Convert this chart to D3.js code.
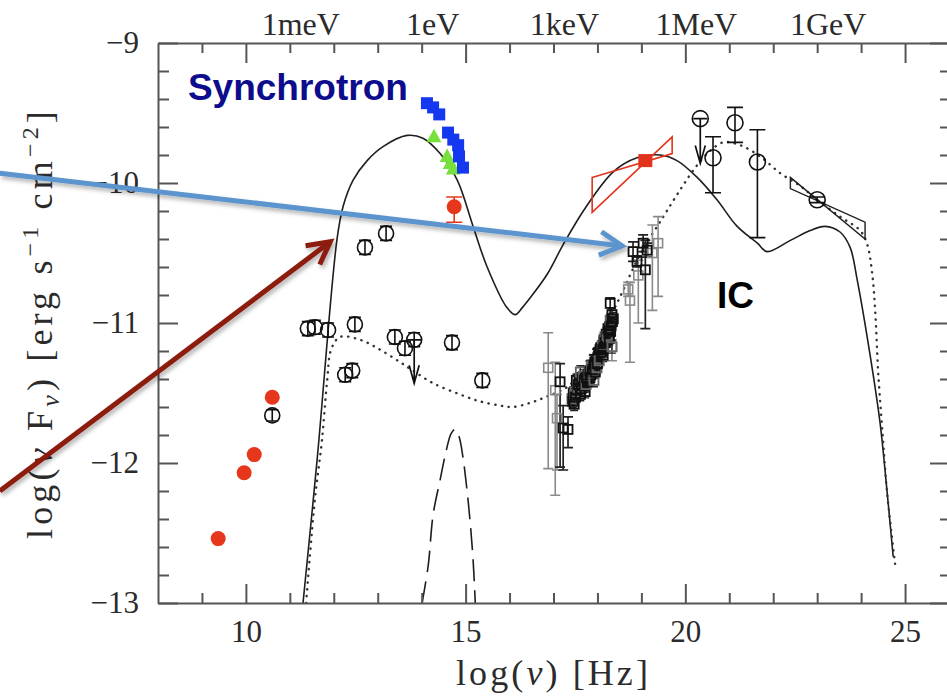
<!DOCTYPE html>
<html>
<head>
<meta charset="utf-8">
<script src="https://cdn.jsdelivr.net/npm/d3@7/dist/d3.min.js"></script>
<style>
  html, body { margin: 0; padding: 0; background: #fff; }
  svg { display: block; }
</style>
</head>
<body>
<svg id="sed" width="947" height="698"></svg>
<script>
// Broadband SED: log10(nu) [Hz] against log10(nu F_nu) [erg s^-1 cm^-2]

// ---- axes ----
const xDomain = [8, 26];
const yDomain = [-13, -9];
const xMajorTicks = [10, 15, 20, 25];
const xMinorTicks = [9, 11, 12, 13, 14, 16, 17, 18, 19, 21, 22, 23, 24];
const yMajorTicks = [-13, -12, -11, -10, -9];
const yMinorTicks = [-12.8, -12.6, -12.4, -12.2, -11.8, -11.6, -11.4, -11.2,
                     -10.8, -10.6, -10.4, -10.2, -9.8, -9.6, -9.4, -9.2];
const energyLabels = ["1meV", "1eV", "1keV", "1MeV", "1GeV"];
const energyPos = [11.25, 14.25, 17.25, 20.25, 23.25];

// ---- model curves ----
const sscModel = [
  [11.30,-13.00],[11.62,-11.98],[12.07,-10.41],[12.21,-10.17],[12.44,-9.98],
  [12.76,-9.84],[13.12,-9.74],[13.67,-9.66],[14.03,-9.68],[14.42,-9.79],
  [14.81,-9.98],[15.17,-10.31],[15.49,-10.60],[15.94,-10.89],[16.13,-10.94],
  [16.29,-10.89],[16.47,-10.82],[16.86,-10.65],[17.22,-10.44],[17.72,-10.18],
  [18.36,-9.92],[18.90,-9.82],[19.43,-9.80],[19.81,-9.84],[20.27,-9.96],
  [20.72,-10.12],[21.18,-10.31],[21.64,-10.43],[21.86,-10.49],[22.39,-10.41],
  [22.84,-10.34],[23.18,-10.31],[23.52,-10.35],[23.75,-10.46],[23.91,-10.69],
  [24.21,-11.24],[24.43,-11.71],[24.55,-12.07],[24.73,-12.67]
];
const altModel = [
  [11.37,-13.00],[11.57,-12.26],[11.73,-11.84],[11.85,-11.41],[11.94,-11.19],
  [12.14,-11.10],[12.60,-11.12],[13.05,-11.19],[13.51,-11.28],[13.80,-11.34],
  [14.26,-11.43],[14.87,-11.51],[15.33,-11.56],[15.79,-11.59],[16.08,-11.60],
  [16.47,-11.57],[16.81,-11.53],[17.38,-11.44],[17.95,-11.16],[18.52,-10.81],
  [18.97,-10.51],[19.50,-10.24],[19.88,-10.05],[20.18,-9.91],[20.50,-9.79],
  [20.86,-9.71],[21.25,-9.73],[21.70,-9.81],[22.16,-9.93],[22.61,-10.02],
  [23.00,-10.12],[23.52,-10.24],[23.98,-10.34],[24.14,-10.44],[24.25,-10.64],
  [24.32,-10.91],[24.39,-11.36],[24.50,-11.84],[24.59,-12.21],[24.78,-12.74]
];
const diskModel = [
  [14.01,-13.00],[14.15,-12.73],[14.26,-12.37],[14.42,-12.12],[14.56,-11.91],
  [14.67,-11.79],[14.76,-11.76],[14.85,-11.81],[14.94,-11.96],[15.03,-12.19],
  [15.10,-12.41],[15.17,-12.69],[15.22,-13.00]
];

// ---- observations ----
const radioPts = [[9.37,-12.54],[9.96,-12.07],[10.19,-11.94],[10.60,-11.53]];
const opticalRed = [[14.74,-10.17,-10.10,-10.28]];
const opticalBlue = [[14.12,-9.43],[14.26,-9.46],[14.40,-9.51],[14.60,-9.64],
                     [14.72,-9.69],[14.83,-9.73],[14.85,-9.81],[14.94,-9.89]];
const opticalGreen = [[14.28,-9.67],[14.58,-9.81],[14.65,-9.86],[14.72,-9.90]];
// archival points: [logNu, logNuFnu, errTop, errBottom]
const archival = [
  [10.60,-11.66,-11.62,-11.70],[11.41,-11.04,-10.99,-11.09],[11.57,-11.03,-10.98,-11.08],
  [11.87,-11.05,-11.00,-11.10],[12.48,-11.01,-10.96,-11.06],[12.71,-10.46,-10.41,-10.51],
  [13.19,-10.36,-10.31,-10.41],[13.39,-11.10,-11.05,-11.15],[13.62,-11.18,-11.13,-11.23],
  [13.83,-11.12,-11.07,-11.17],[14.69,-11.14,-11.09,-11.19],[12.26,-11.37,-11.32,-11.42],
  [12.42,-11.34,-11.29,-11.39],[15.38,-11.41,-11.36,-11.46]
];
// upper limits: [logNu, logNuFnu, arrow end]
const upperLimits = [[13.83,-11.12,-11.43],[20.34,-9.54,-9.86]];
const gammaPts = [
  [20.63,-9.82,-9.67,-10.07],[21.13,-9.57,-9.46,-9.71],
  [21.64,-9.85,-9.62,-10.39],[23.00,-10.12,-10.10,-10.14]
];
const xrayBand = [
  [17.42,-11.54],[17.44,-11.56],[17.45,-11.50],[17.47,-11.58],[17.49,-11.49],[17.50,-11.53],
  [17.52,-11.41],[17.54,-11.48],[17.56,-11.46],[17.57,-11.44],[17.58,-11.40],[17.61,-11.51],
  [17.61,-11.35],[17.63,-11.47],[17.65,-11.44],[17.66,-11.40],[17.68,-11.38],[17.70,-11.41],
  [17.71,-11.45],[17.72,-11.49],[17.74,-11.44],[17.75,-11.39],[17.77,-11.42],[17.79,-11.37],
  [17.81,-11.36],[17.83,-11.34],[17.83,-11.39],[17.85,-11.37],[17.86,-11.31],[17.88,-11.35],
  [17.90,-11.33],[17.92,-11.30],[17.92,-11.41],[17.94,-11.28],[17.95,-11.35],[17.97,-11.26],
  [17.99,-11.32],[18.00,-11.29],[18.02,-11.24],[18.03,-11.21],[18.04,-11.27],[18.06,-11.19],
  [18.08,-11.18],[18.09,-11.21],[18.11,-11.16],[18.12,-11.19],[18.13,-11.23],[18.15,-11.12],
  [18.17,-11.10],[18.18,-11.14],[18.20,-11.08],[18.21,-11.12],[18.22,-11.09],[18.24,-11.04],
  [18.26,-11.05],[18.27,-11.11],[18.29,-10.98],[18.30,-11.06],[18.31,-11.02],[18.33,-10.94],
  [18.33,-11.17],[18.34,-10.99],[18.36,-10.97]
];
// wide-band X-ray points: [logNu, logNuFnu, errTop, errBottom]
const xrayBlack = [
  [17.15,-11.42,-11.29,-12.03],[17.22,-11.75,-11.59,-12.05],[17.33,-11.76,-11.67,-11.89],
  [18.29,-10.86,-10.82,-11.05],[19.09,-10.62,-10.41,-11.04],[18.81,-10.49,-10.42,-10.56],
  [19.04,-10.43,-10.37,-10.49],[19.13,-10.48,-10.43,-10.53],[18.90,-10.56,-10.52,-10.60]
];
const xrayGrey = [
  [16.88,-11.32,-11.07,-12.04],[17.04,-11.48,-11.28,-12.23],[17.08,-11.68,-11.51,-12.05],
  [18.74,-10.84,-10.71,-11.28],[18.93,-10.66,-10.55,-11.00],[19.25,-10.50,-10.30,-10.91],
  [19.38,-10.43,-10.24,-10.81],[18.70,-10.76,-10.71,-10.81],[18.33,-11.17,-11.12,-11.27]
];
// spectral bowties (polygon corners)
const xrayBowtie = [[17.88,-9.96],[19.70,-9.79],[19.70,-9.67],[17.88,-10.21]];
const xrayPivot = [[19.09,-9.84]];
const gammaBowtie = [[22.39,-9.96],[24.09,-10.40],[24.09,-10.28],[22.39,-10.04]];

// ---- annotations ----
const labels = [
  {text: "Synchrotron", at: [8.68, -9.41], color: "#0c0c8c"},
  {text: "IC", at: [20.72, -10.89], color: "#000000"}
];
const arrows = [
  {from: [4.40, -9.93], to: [18.56, -10.45], color: "#5b94cd"},
  {from: [4.40, -12.20], to: [11.92, -10.42], color: "#8c1b0f"}
];

// ---- drawing ----
const svg = d3.select("#sed");
const x = d3.scaleLinear().domain(xDomain).range([158, 949]);
const y = d3.scaleLinear().domain(yDomain).range([603, 43]);
const serif = "'Liberation Serif', 'DejaVu Serif', serif";
const sans = "'Liberation Sans', Arial, sans-serif";
const axisColor = "#555";
const textColor = "#2b2b2b";

svg.append("rect").attr("width", 947).attr("height", 698).attr("fill", "#fff");

const defs = svg.append("defs");
defs.append("clipPath").attr("id", "plotClip")
  .append("rect").attr("x", x(8)).attr("y", y(-9))
  .attr("width", x(26) - x(8)).attr("height", y(-13) - y(-9));
const shadow = defs.append("filter").attr("id", "shadow")
  .attr("filterUnits", "userSpaceOnUse")
  .attr("x", 0).attr("y", 0).attr("width", 947).attr("height", 698);
shadow.append("feDropShadow").attr("dx", 2).attr("dy", 3)
  .attr("stdDeviation", 2).attr("flood-color", "#000").attr("flood-opacity", 0.3);

const plot = svg.append("g").attr("clip-path", "url(#plotClip)");

const line = d3.line().x(d => x(d[0])).y(d => y(d[1])).curve(d3.curveCatmullRom.alpha(0.5));

plot.append("path").datum(sscModel).attr("d", line)
  .attr("fill", "none").attr("stroke", "#1e1e1e").attr("stroke-width", 1.6);
plot.append("path").datum(altModel).attr("d", line)
  .attr("fill", "none").attr("stroke", "#333").attr("stroke-width", 2.4)
  .attr("stroke-dasharray", "0.3 6.5").attr("stroke-linecap", "round");
plot.append("path").datum(diskModel).attr("d", line)
  .attr("fill", "none").attr("stroke", "#1e1e1e").attr("stroke-width", 1.6)
  .attr("stroke-dasharray", "22 9");

// bowties
const poly = d3.line().x(d => x(d[0])).y(d => y(d[1])).curve(d3.curveLinearClosed);
plot.append("path").datum(xrayBowtie).attr("d", poly)
  .attr("fill", "none").attr("stroke", "#e2341d").attr("stroke-width", 1.6);
plot.append("path").datum(gammaBowtie).attr("d", poly)
  .attr("fill", "none").attr("stroke", "#1e1e1e").attr("stroke-width", 1.4);
plot.selectAll(".pivot").data(xrayPivot).join("rect")
  .attr("x", d => x(d[0]) - 7).attr("y", d => y(d[1]) - 6.5)
  .attr("width", 14).attr("height", 13).attr("fill", "#e2341d");

// error bars helper
function errorBars(g, data, cap, color, width) {
  g.selectAll(null).data(data).join("path")
    .attr("d", d => {
      const cx = x(d[0]), t = y(d[2]), b = y(d[3]);
      return `M${cx},${t}V${b}M${cx - cap / 2},${t}H${cx + cap / 2}M${cx - cap / 2},${b}H${cx + cap / 2}`;
    })
    .attr("fill", "none").attr("stroke", color).attr("stroke-width", width);
}

// X-ray spectra
const xg = plot.append("g");
errorBars(xg, xrayGrey, 10, "#8a8a8a", 1.6);
errorBars(xg, xrayBlack, 10, "#222", 1.7);
errorBars(xg, xrayBand.map(d => [d[0], d[1], d[1] + 0.045, d[1] - 0.045]), 8, "#222", 1.4);
xg.selectAll(null).data(xrayGrey).join("rect")
  .attr("x", d => x(d[0]) - 4.5).attr("y", d => y(d[1]) - 4.5)
  .attr("width", 9).attr("height", 9)
  .attr("fill", "none").attr("stroke", "#8a8a8a").attr("stroke-width", 1.6);
xg.selectAll(null).data(xrayBand).join("rect")
  .attr("x", d => x(d[0]) - 4.5).attr("y", d => y(d[1]) - 4.5)
  .attr("width", 9).attr("height", 9)
  .attr("fill", "none").attr("stroke", (d, i) => i % 4 === 0 ? "#666" : "#111").attr("stroke-width", 1.9);
xg.selectAll(null).data(xrayBlack).join("rect")
  .attr("x", d => x(d[0]) - 4.5).attr("y", d => y(d[1]) - 4.5)
  .attr("width", 9).attr("height", 9)
  .attr("fill", "none").attr("stroke", "#111").attr("stroke-width", 1.8);

// archival circles
const ag = plot.append("g");
errorBars(ag, archival, 12, "#111", 1.6);
ag.selectAll(null).data(archival).join("circle")
  .attr("cx", d => x(d[0])).attr("cy", d => y(d[1])).attr("r", 7.5)
  .attr("fill", "none").attr("stroke", "#111").attr("stroke-width", 1.6);
errorBars(ag, gammaPts, 16, "#111", 1.6);
ag.selectAll(null).data(gammaPts).join("circle")
  .attr("cx", d => x(d[0])).attr("cy", d => y(d[1])).attr("r", 8)
  .attr("fill", "none").attr("stroke", "#111").attr("stroke-width", 1.6);
// upper limits
ag.selectAll(null).data(upperLimits).join("path")
  .attr("d", d => {
    const cx = x(d[0]), t = y(d[1]), b = y(d[2]);
    return `M${cx - 7},${t}H${cx + 7}M${cx},${t}V${b}M${cx - 5},${b - 18}L${cx},${b}L${cx + 5},${b - 18}`;
  })
  .attr("fill", "none").attr("stroke", "#111").attr("stroke-width", 1.7);
ag.selectAll(null).data(upperLimits.filter(d => d[0] > 20)).join("circle")
  .attr("cx", d => x(d[0])).attr("cy", d => y(d[1])).attr("r", 8)
  .attr("fill", "none").attr("stroke", "#111").attr("stroke-width", 1.6);

// coloured photometry
const cg = plot.append("g");
cg.selectAll(null).data(radioPts).join("circle")
  .attr("cx", d => x(d[0])).attr("cy", d => y(d[1])).attr("r", 7.5).attr("fill", "#e6361c");
errorBars(cg, opticalRed, 16, "#e6361c", 1.6);
cg.selectAll(null).data(opticalRed).join("circle")
  .attr("cx", d => x(d[0])).attr("cy", d => y(d[1])).attr("r", 7.5).attr("fill", "#e6361c");
cg.selectAll(null).data(opticalGreen).join("path")
  .attr("d", d => { const cx = x(d[0]), cy = y(d[1]); return `M${cx},${cy - 8}L${cx + 7.5},${cy + 5.5}L${cx - 7.5},${cy + 5.5}Z`; })
  .attr("fill", "#78e03c");
cg.selectAll(null).data(opticalBlue).join("rect")
  .attr("x", d => x(d[0]) - 6).attr("y", d => y(d[1]) - 6)
  .attr("width", 12).attr("height", 12).attr("fill", "#1438f0");

// ---- axes ----
function styleAxis(g) {
  g.selectAll("path, line").attr("stroke", axisColor).attr("stroke-width", 2);
  g.selectAll("text").attr("fill", textColor).attr("font-family", serif).attr("font-size", 31);
}
svg.append("g").attr("transform", `translate(0,${y(-13)})`)
  .call(d3.axisBottom(x).tickValues(xMajorTicks).tickSize(-19).tickSizeOuter(0).tickPadding(17).tickFormat(d3.format("d")))
  .call(styleAxis);
svg.append("g").attr("transform", `translate(0,${y(-13)})`)
  .call(d3.axisBottom(x).tickValues(xMinorTicks).tickSize(-10).tickSizeOuter(0).tickFormat(""))
  .call(g => g.select(".domain").remove()).call(styleAxis);
svg.append("g").attr("transform", `translate(0,${y(-9)})`)
  .call(d3.axisTop(x).tickValues(xMajorTicks).tickSize(-20).tickSizeOuter(0).tickFormat(""))
  .call(styleAxis);
svg.append("g").attr("transform", `translate(0,${y(-9)})`)
  .call(d3.axisTop(x).tickValues(xMinorTicks).tickSize(-10).tickSizeOuter(0).tickFormat(""))
  .call(g => g.select(".domain").remove()).call(styleAxis);
svg.append("g").attr("transform", `translate(${x(8)},0)`)
  .call(d3.axisLeft(y).tickValues(yMajorTicks).tickSize(-20).tickSizeOuter(0).tickPadding(19).tickFormat(d3.format("d")))
  .call(styleAxis);
svg.append("g").attr("transform", `translate(${x(8)},0)`)
  .call(d3.axisLeft(y).tickValues(yMinorTicks).tickSize(-11).tickSizeOuter(0).tickFormat(""))
  .call(g => g.select(".domain").remove()).call(styleAxis);
svg.append("g").attr("transform", `translate(${x(26)},0)`)
  .call(d3.axisRight(y).tickValues(yMajorTicks).tickSize(-19).tickSizeOuter(0).tickFormat(""))
  .call(styleAxis);
svg.append("g").attr("transform", `translate(${x(26)},0)`)
  .call(d3.axisRight(y).tickValues(yMinorTicks).tickSize(-9).tickSizeOuter(0).tickFormat(""))
  .call(g => g.select(".domain").remove()).call(styleAxis);

// photon energy scale along the top
svg.append("g").selectAll("text").data(energyLabels).join("text")
  .attr("x", (d, i) => x(energyPos[i])).attr("y", 35)
  .attr("text-anchor", "middle").attr("font-family", serif).attr("font-size", 32)
  .attr("fill", textColor).text(d => d);

// stretch a title so that it spans the given length
function fitLength(sel, target) {
  const node = sel.node();
  const n = node.getNumberOfChars();
  const natural = node.getComputedTextLength();
  sel.attr("letter-spacing", ((target - natural) / n).toFixed(2));
}

// axis titles
const xt = svg.append("text").attr("x", (x(8) + x(26)) / 2).attr("y", 685)
  .attr("text-anchor", "middle").attr("font-family", serif).attr("font-size", 36)
  .attr("fill", textColor);
xt.append("tspan").text("log(");
xt.append("tspan").attr("font-style", "italic").text("ν");
xt.append("tspan").text(")  [Hz]");
fitLength(xt, 195);

const yt = svg.append("text")
  .attr("transform", `translate(52,${(y(-13) + y(-9)) / 2}) rotate(-90)`)
  .attr("text-anchor", "middle").attr("font-family", serif).attr("font-size", 36)
  .attr("fill", textColor);
yt.append("tspan").text("log(");
yt.append("tspan").attr("font-style", "italic").text("ν");
yt.append("tspan").text(" F");
yt.append("tspan").attr("font-size", 26).attr("font-style", "italic").attr("dy", 7).text("ν");
yt.append("tspan").attr("dy", -7).text(")  [erg s");
yt.append("tspan").attr("font-size", 24).attr("dy", -14).text("−1");
yt.append("tspan").attr("dy", 14).text(" cm");
yt.append("tspan").attr("font-size", 24).attr("dy", -14).text("−2");
yt.append("tspan").attr("dy", 14).text("]");
fitLength(yt, 432);

// region labels
svg.append("g").selectAll("text").data(labels).join("text")
  .attr("x", d => x(d.at[0])).attr("y", d => y(d.at[1]))
  .attr("font-family", sans).attr("font-weight", "bold").attr("font-size", 37)
  .attr("fill", d => d.color).text(d => d.text);

// pointer arrows
const ar = svg.append("g").attr("filter", "url(#shadow)");
arrows.forEach(a => {
  const x0 = x(a.from[0]), y0 = y(a.from[1]), x1 = x(a.to[0]), y1 = y(a.to[1]);
  const ang = Math.atan2(y0 - y1, x0 - x1), len = 25, half = 28 * Math.PI / 180;
  const p1 = [x1 + len * Math.cos(ang + half), y1 + len * Math.sin(ang + half)];
  const p2 = [x1 + len * Math.cos(ang - half), y1 + len * Math.sin(ang - half)];
  ar.append("path").attr("d", `M${x0},${y0}L${x1},${y1}`)
    .attr("stroke", a.color).attr("stroke-width", 5).attr("fill", "none");
  ar.append("path").attr("d", `M${p1[0]},${p1[1]}L${x1},${y1}L${p2[0]},${p2[1]}`)
    .attr("stroke", a.color).attr("stroke-width", 5).attr("fill", "none")
    .attr("stroke-linejoin", "miter");
});
</script>
</body>
</html>
